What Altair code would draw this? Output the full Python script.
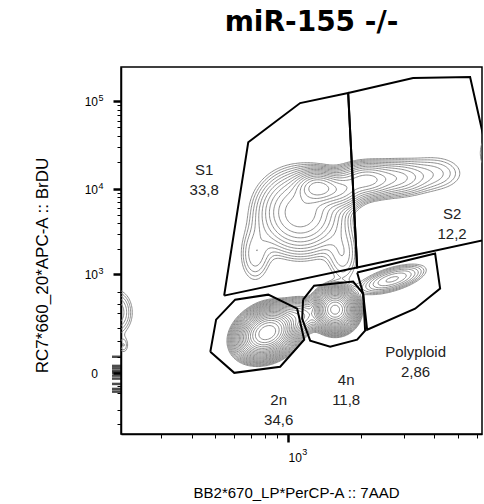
import numpy as np
import pandas as pd
import altair as alt

# ---------------- values ----------------
TITLE = "miR-155 -/-"
X_TITLE = "BB2*670_LP*PerCP-A :: 7AAD"
Y_TITLE = "RC7*660_20*APC-A :: BrDU"

X_DOMAIN = [205, 6280]          # 7AAD (log axis)
Y_DOMAIN = [-318, 244700]       # BrdU (bi-exponential axis)
Y_SYMLOG_C = 80

X_MAJOR = [1000]
X_MAJOR_BASE = ["10"]
X_MAJOR_EXP = ["3"]
X_MINOR = [300, 400, 500, 600, 700, 800, 900, 2000, 3000, 4000, 5000, 6000]
Y_MAJOR = [0, 1000, 10000, 100000]
Y_MAJOR_BASE = ["0", "10", "10", "10"]
Y_MAJOR_EXP = ["", "3", "4", "5"]
Y_MINOR = [-225, -130, -55, -33, 42, 105, 180, 300, 410, 580,
           2000, 3000, 4000, 5000, 6000, 7000, 8000, 9000,
           20000, 30000, 40000, 50000, 60000, 70000, 80000, 90000]

# cell populations (centre in data units, spread in axis units, relative peak density)
POP_NAME = ["2n", "4n", "2n-4n bridge", "polyploid",
            "S core", "S main", "S left leg", "S right leg", "S right",
            "S2 core", "S2 mid", "S2 tail", "off-scale",
            "sub-G1", "sub-G1 tail"]
POP_X = [820, 1560, 1120, 2680,
         1320, 1120, 730, 1680, 1640,
         2070, 2760, 4030, 7000,
         196, 210]
POP_Y = [150, 340, 280, 850,
         10300, 5300, 1660, 1660, 9500,
         12400, 13100, 15000, 26000,
         310, 83]
POP_SX = [0.049, 0.035, 0.041, 0.074,
          0.045, 0.090, 0.041, 0.041, 0.050,
          0.058, 0.074, 0.082, 0.033,
          0.041, 0.016]
POP_SY = [0.263, 0.224, 0.211, 0.211,
          0.210, 0.550, 0.470, 0.470, 0.240,
          0.237, 0.260, 0.316, 0.316,
          0.368, 0.158]
POP_RHO = [0.25, 0, 0, 0.6,
           0, 0, 0, 0, 0,
           0, 0, 0, 0,
           0, 0]
POP_PEAK = [1.0, 0.7, 0.05, 0.02,
            0.08, 0.05, 0.008, 0.008, 0.04,
            0.04, 0.02, 0.007, 0.012,
            0.012, 0.005]
CONTOUR_RATIO = 0.78
N_LEVELS = 23

# gates
GATE_NAME = ["S1", "S2", "2n", "4n", "Polyploid"]
GATE_VALUE = ["33,8", "12,2", "34,6", "11,8", "2,86"]
GATE_X = [[545, 685, 1120, 1766, 1923],
          [1766, 3269, 5610, 6911, 7456, 1923],
          [478, 505, 605, 828, 1089, 1164, 927, 600],
          [1152, 1279, 1851, 2035, 2074, 1923, 1489, 1232, 1142],
          [1923, 4027, 4222, 3331, 2114, 2035]]
GATE_Y = [[527, 33950, 94910, 123510, 1188],
          [123510, 183280, 188160, 14195, 2787, 1188],
          [59, 243, 466, 543, 351, 111, 14, 0],
          [466, 709, 797, 560, 162, 111, 79, 106, 251],
          [1032, 1753, 650, 351, 168, 560]]
LABEL_X = [451, 4730, 914, 1733, 3347]
LABEL_Y = [16420, 5102, -82.8, -17.5, 57.2]

# events piled up on the left axis
EVENT_Y = [42, 16, 10, 4, 0, -6, -13, -27, -42, -51]

# ---------------- density + contour lines ----------------
def to_u(x):
    return np.log10(x)

def to_v(y):
    y = np.asarray(y, dtype=float)
    return np.sign(y) * np.log1p(np.abs(y) / Y_SYMLOG_C)

def from_v(v):
    return np.sign(v) * Y_SYMLOG_C * np.expm1(np.abs(v))

gu = np.linspace(np.log10(150), np.log10(9000), 300)
gv = np.linspace(-2.0, 8.3, 280)
GU, GV = np.meshgrid(gu, gv)
Z = np.zeros_like(GU)
for cx, cy, sx, sy, rho, pk in zip(POP_X, POP_Y, POP_SX, POP_SY, POP_RHO, POP_PEAK):
    du = (GU - to_u(cx)) / sx
    dv = (GV - to_v(cy)) / sy
    q = (du * du - 2 * rho * du * dv + dv * dv) / (1 - rho * rho)
    Z += pk * np.exp(-0.5 * q)


def contour_segments(Z, gu, gv, level):
    A = Z[:-1, :-1]; B = Z[:-1, 1:]; C = Z[1:, 1:]; D = Z[1:, :-1]
    shape = A.shape
    U0 = np.broadcast_to(gu[None, :-1], shape); U1 = np.broadcast_to(gu[None, 1:], shape)
    V0 = np.broadcast_to(gv[:-1, None], shape); V1 = np.broadcast_to(gv[1:, None], shape)

    def cross(z0, z1):
        m = (z0 >= level) != (z1 >= level)
        d = np.where(m, z1 - z0, 1.0)
        t = np.where(m, (level - z0) / d, 0.0)
        return m, t

    mb, tb = cross(A, B); mr, tr = cross(B, C); mt, tt = cross(D, C); ml, tl = cross(A, D)
    M = np.stack([mb, mr, mt, ml], -1)
    PU = np.stack([U0 + tb * (U1 - U0), U1, U0 + tt * (U1 - U0), U0], -1)
    PV = np.stack([V0, V0 + tr * (V1 - V0), V1, V0 + tl * (V1 - V0)], -1)
    cnt = M.sum(-1)
    out = []
    s2 = cnt == 2
    if s2.any():
        m2 = M[s2]; pu = PU[s2]; pv = PV[s2]
        idx = np.argsort(~m2, axis=1, kind="stable")[:, :2]
        a = np.take_along_axis(pu, idx, 1); b = np.take_along_axis(pv, idx, 1)
        out.append(np.column_stack([a[:, 0], b[:, 0], a[:, 1], b[:, 1]]))
    s4 = cnt == 4
    if s4.any():
        pu = PU[s4]; pv = PV[s4]
        out.append(np.column_stack([pu[:, 0], pv[:, 0], pu[:, 1], pv[:, 1]]))
        out.append(np.column_stack([pu[:, 2], pv[:, 2], pu[:, 3], pv[:, 3]]))
    return np.vstack(out) if out else np.zeros((0, 4))


segs = [contour_segments(Z, gu, gv, CONTOUR_RATIO ** k) for k in range(1, N_LEVELS + 1)]
segs = np.vstack(segs)
seg_df = pd.DataFrame({
    "x": np.round(10 ** segs[:, 0], 2),
    "y": np.round(from_v(segs[:, 1]), 2),
    "x2": np.round(10 ** segs[:, 2], 2),
    "y2": np.round(from_v(segs[:, 3]), 2),
})

gate_rows = []
for name, gx, gy in zip(GATE_NAME, GATE_X, GATE_Y):
    pts = list(zip(gx, gy)) + [(gx[0], gy[0])]
    for i, (a, b) in enumerate(pts):
        gate_rows.append({"gate": name, "order": i, "x": a, "y": b})
gate_df = pd.DataFrame(gate_rows)

label_df = pd.DataFrame({
    "text": [f"{n}\n{v}" for n, v in zip(GATE_NAME, GATE_VALUE)],
    "x": LABEL_X, "y": LABEL_Y})

event_df = pd.DataFrame({"x": [X_DOMAIN[0]] * len(EVENT_Y), "y": EVENT_Y})

ytick_df = pd.DataFrame({"x": [X_DOMAIN[0]] * len(Y_MAJOR), "y": Y_MAJOR,
                         "base": Y_MAJOR_BASE, "exp": Y_MAJOR_EXP})
xtick_df = pd.DataFrame({"x": X_MAJOR, "y": [Y_DOMAIN[0]] * len(X_MAJOR),
                         "base": X_MAJOR_BASE, "exp": X_MAJOR_EXP})


# ---------------- chart ----------------
def major_test(vals):
    return " || ".join(f"datum.value == {v}" for v in vals)


FONT = "Liberation Sans"
xs = alt.Scale(type="log", domain=X_DOMAIN, nice=False)
ys = alt.Scale(type="symlog", constant=Y_SYMLOG_C, domain=Y_DOMAIN, nice=False)

x_axis = alt.Axis(
    values=X_MAJOR + X_MINOR, tickCount=200, labels=False,
    tickSize={"condition": {"test": major_test(X_MAJOR), "value": 8}, "value": 4},
    tickWidth={"condition": {"test": major_test(X_MAJOR), "value": 2.5}, "value": 1},
    tickColor="black", domainColor="black", domainWidth=1.5, grid=False,
    title=X_TITLE, titleFont=FONT, titleFontSize=15, titleFontWeight="normal",
    titleColor="black", titleX=175, titleY=58, titleAlign="center",
    titleBaseline="middle")

y_axis = alt.Axis(
    values=Y_MAJOR + Y_MINOR, tickCount=200, labels=False,
    tickSize={"condition": {"test": major_test(Y_MAJOR), "value": 8}, "value": 4},
    tickWidth={"condition": {"test": major_test(Y_MAJOR), "value": 2.5}, "value": 1},
    tickColor="black", domainColor="black", domainWidth=1.5, grid=False,
    title=Y_TITLE, titleFont=FONT, titleFontSize=17, titleFontWeight="normal",
    titleColor="black", titleX=-79, titleY=198, titleAngle=270, titleAlign="center",
    titleBaseline="middle")

contours = alt.Chart(seg_df).mark_rule(clip=True, color="#7a7a7a", strokeWidth=0.85).encode(
    x=alt.X("x:Q", scale=xs, axis=x_axis),
    y=alt.Y("y:Q", scale=ys, axis=y_axis),
    x2="x2:Q", y2="y2:Q")

gates = alt.Chart(gate_df).mark_line(clip=True, color="black", strokeWidth=2).encode(
    x=alt.X("x:Q", scale=xs), y=alt.Y("y:Q", scale=ys),
    order="order:Q", detail="gate:N")

labels = alt.Chart(label_df).mark_text(
    font=FONT, fontSize=15, lineBreak="\n", lineHeight=20, align="center",
    baseline="middle", color="#222222").encode(
    x=alt.X("x:Q", scale=xs), y=alt.Y("y:Q", scale=ys), text="text:N")

events = alt.Chart(event_df).mark_tick(
    orient="horizontal", color="black", thickness=2.5, size=9, xOffset=-4.5).encode(
    x=alt.X("x:Q", scale=xs), y=alt.Y("y:Q", scale=ys))

ytick_base = alt.Chart(ytick_df).mark_text(
    font=FONT, fontSize=12, align="right", baseline="alphabetic", dx=-23, dy=5,
    color="black").encode(x=alt.X("x:Q", scale=xs), y=alt.Y("y:Q", scale=ys), text="base:N")
ytick_exp = alt.Chart(ytick_df).mark_text(
    font=FONT, fontSize=9, align="left", baseline="alphabetic", dx=-22.5, dy=0,
    color="black").encode(x=alt.X("x:Q", scale=xs), y=alt.Y("y:Q", scale=ys), text="exp:N")
xtick_base = alt.Chart(xtick_df).mark_text(
    font=FONT, fontSize=12, align="center", baseline="alphabetic", dx=7, dy=28,
    color="black").encode(x=alt.X("x:Q", scale=xs), y=alt.Y("y:Q", scale=ys), text="base:N")
xtick_exp = alt.Chart(xtick_df).mark_text(
    font=FONT, fontSize=9, align="left", baseline="alphabetic", dx=14, dy=21,
    color="black").encode(x=alt.X("x:Q", scale=xs), y=alt.Y("y:Q", scale=ys), text="exp:N")

chart = alt.layer(contours, gates, labels, events,
                  ytick_base, ytick_exp, xtick_base, xtick_exp).properties(
    width=361, height=367,
    autosize=alt.AutoSizeParams(type="none"),
    padding={"left": 121, "top": 67, "right": 2, "bottom": 70},
    title=alt.TitleParams(TITLE, font="DejaVu Sans", fontSize=28, fontWeight="bold",
                          color="black", anchor="middle", frame="group", dx=10,
                          offset=8, baseline="alphabetic"),
    background="white",
).configure_view(stroke="black", strokeWidth=1.5)

chart.save("out.html", embed_options={"renderer": "svg", "actions": False})
